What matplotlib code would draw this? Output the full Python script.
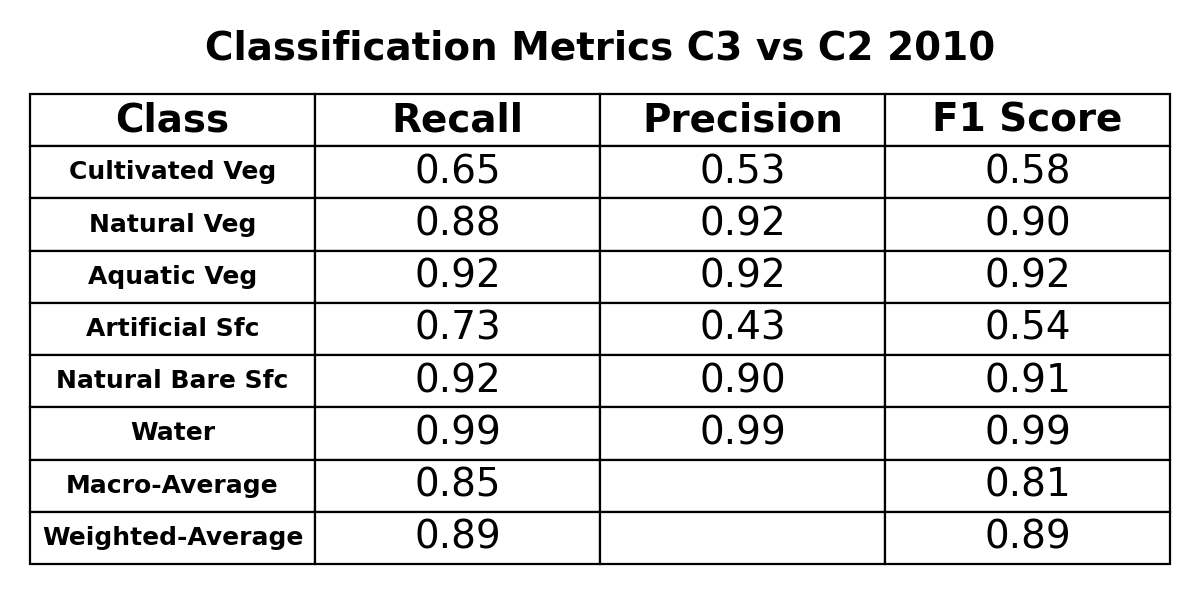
import matplotlib
matplotlib.use("Agg")
import matplotlib.pyplot as plt

title = "Classification Metrics C3 vs C2 2010"
columns = ["Class", "Recall", "Precision", "F1 Score"]
classes = ["Cultivated Veg", "Natural Veg", "Aquatic Veg", "Artificial Sfc",
           "Natural Bare Sfc", "Water", "Macro-Average", "Weighted-Average"]
recall = [0.65, 0.88, 0.92, 0.73, 0.92, 0.99, 0.85, 0.89]
precision = [0.53, 0.92, 0.92, 0.43, 0.90, 0.99, None, None]
f1 = [0.58, 0.90, 0.92, 0.54, 0.91, 0.99, 0.81, 0.89]

def fmt(v):
    return "" if v is None else f"{v:.2f}"

cells = [[c, fmt(r), fmt(p), fmt(f)] for c, r, p, f in zip(classes, recall, precision, f1)]

fig = plt.figure(figsize=(12, 6), dpi=100)
fig.text(0.5, 1 - 48/600, title, ha="center", va="center", fontsize=28, fontweight="bold")
ax = fig.add_axes([30/1200, 36/600, 1140/1200, 470/600])
ax.axis("off")
tab = ax.table(cellText=cells, colLabels=columns, bbox=[0, 0, 1, 1], cellLoc="center")
tab.auto_set_font_size(False)
for (r, c), cell in tab.get_celld().items():
    cell.set_linewidth(1.6)
    cell.set_edgecolor("black")
    t = cell.get_text()
    if r == 0:
        t.set_fontsize(28); t.set_fontweight("bold")
    elif c == 0:
        t.set_fontsize(18); t.set_fontweight("bold")
    else:
        t.set_fontsize(28)
fig.savefig("out.png", dpi=100)
